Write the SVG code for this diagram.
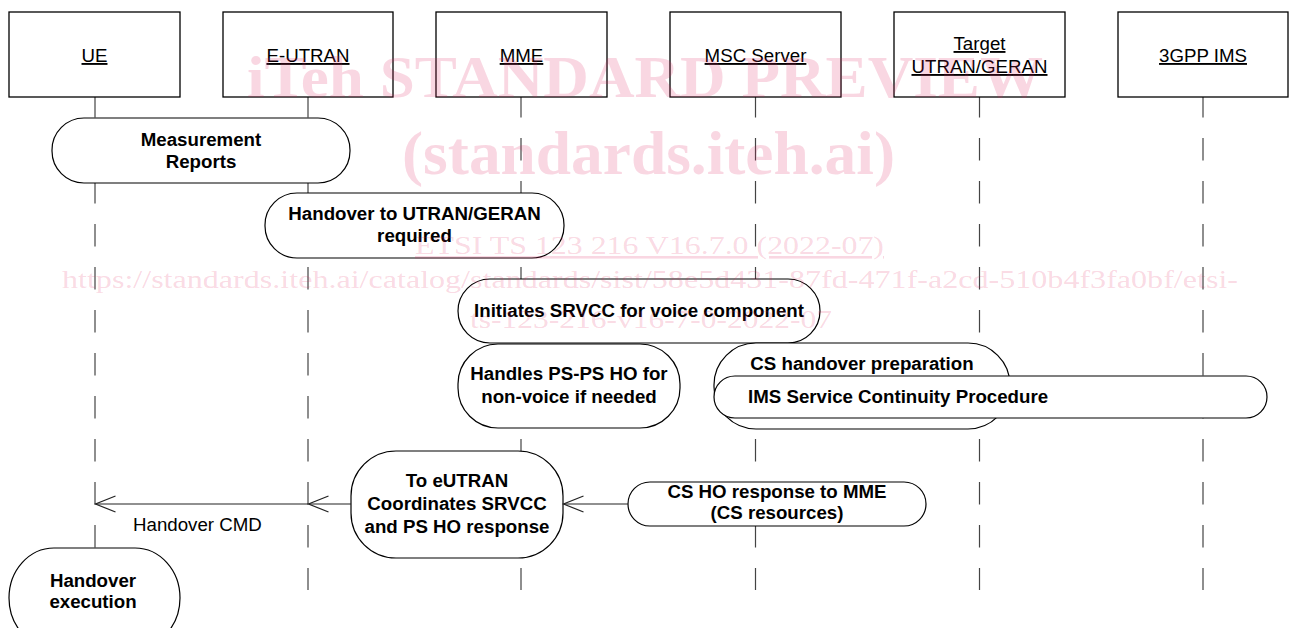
<svg xmlns="http://www.w3.org/2000/svg" width="1289" height="628" viewBox="0 0 1289 628">
<defs>
<style>
.box{fill:#fff;stroke:#000;stroke-width:1.3}
.pill{fill:#fff;stroke:#000;stroke-width:1.2}
.life{stroke:#444;stroke-width:1.2;stroke-dasharray:22.5 20.5;stroke-dashoffset:2;fill:none}
.conn{stroke:#222;stroke-width:1.2;fill:none}
.hdr{font-family:"Liberation Sans",Arial,sans-serif;font-size:18.7px;text-anchor:middle;text-decoration:underline;fill:#000}
.lbl{font-family:"Liberation Sans",Arial,sans-serif;font-size:18.7px;font-weight:bold;text-anchor:middle;fill:#000}
.msg{font-family:"Liberation Sans",Arial,sans-serif;font-size:18.7px;fill:#000}
.wm{font-family:"Liberation Serif","Times New Roman",serif;fill:#e0245e;fill-opacity:0.18}
</style>
<marker id="arr" markerUnits="userSpaceOnUse" markerWidth="24" markerHeight="20" refX="0" refY="0" orient="auto" overflow="visible">
<path d="M-20,-8 L0,0 L-20,8" fill="none" stroke="#222" stroke-width="1.2"/>
</marker>
</defs>
<rect width="1289" height="628" fill="#fff"/>

<g id="lifelines">
<line class="life" x1="95" y1="97" x2="95" y2="590"/>
<line class="life" x1="308" y1="97" x2="308" y2="590"/>
<line class="life" x1="521" y1="97" x2="521" y2="590"/>
<line class="life" x1="755.5" y1="97" x2="755.5" y2="590"/>
<line class="life" x1="979.5" y1="97" x2="979.5" y2="590"/>
<line class="life" x1="1203" y1="97" x2="1203" y2="590"/>
</g>

<g id="ue"><rect class="box" x="9" y="12" width="171" height="85"/><text class="hdr" x="94.5" y="62">UE</text></g>
<g id="eutran"><rect class="box" x="223" y="12" width="170" height="85"/><text class="hdr" x="308" y="62">E-UTRAN</text></g>
<g id="mme"><rect class="box" x="436" y="12" width="171" height="85"/><text class="hdr" x="521.5" y="62">MME</text></g>
<g id="msc"><rect class="box" x="670" y="12" width="171" height="85"/><text class="hdr" x="755.5" y="62">MSC Server</text></g>
<g id="target"><rect class="box" x="894" y="12" width="171" height="85"/><text class="hdr" x="979.5" y="50">Target</text><text class="hdr" x="979.5" y="73">UTRAN/GERAN</text></g>
<g id="ims"><rect class="box" x="1118" y="12" width="170" height="85"/><text class="hdr" x="1203" y="62">3GPP IMS</text></g>

<g id="measurement-reports"><rect class="pill" x="52" y="118" width="298" height="65" rx="32" ry="32"/><text class="lbl" x="201" y="145.5">Measurement</text><text class="lbl" x="201" y="167.5">Reports</text></g>
<g id="ho-required"><rect class="pill" x="265" y="193" width="299" height="65" rx="32" ry="32"/><text class="lbl" x="414.5" y="220">Handover to UTRAN/GERAN</text><text class="lbl" x="414.5" y="242">required</text></g>
<g id="initiates-srvcc"><rect class="pill" x="458" y="279" width="362" height="64" rx="32" ry="32"/><text class="lbl" x="639" y="317">Initiates SRVCC for voice component</text></g>
<g id="ps-ps-ho"><rect class="pill" x="458" y="344" width="222" height="84" rx="40" ry="40"/><text class="lbl" x="569" y="380">Handles PS-PS HO for</text><text class="lbl" x="569" y="403">non-voice if needed</text></g>
<g id="cs-ho-prep"><rect class="pill" x="714" y="343" width="296" height="86" rx="42" ry="42"/><text class="lbl" x="862" y="370">CS handover preparation</text></g>
<g id="ims-sc"><rect class="pill" x="714" y="376" width="553" height="42" rx="21" ry="21"/><text class="lbl" x="748" y="403" style="text-anchor:start">IMS Service Continuity Procedure</text></g>
<g id="coordinates"><rect class="pill" x="351" y="451" width="212" height="107" rx="45" ry="45"/><text class="lbl" x="457" y="487">To eUTRAN</text><text class="lbl" x="457" y="510">Coordinates SRVCC</text><text class="lbl" x="457" y="533">and PS HO response</text></g>
<g id="cs-ho-response"><rect class="pill" x="628" y="482" width="298" height="44" rx="22" ry="22"/><text class="lbl" x="777" y="498">CS HO response to MME</text><text class="lbl" x="777" y="519">(CS resources)</text></g>
<g id="ho-execution"><rect class="pill" x="9" y="548" width="171" height="100" rx="45" ry="50"/><text class="lbl" x="93" y="587">Handover</text><text class="lbl" x="93" y="608">execution</text></g>

<g id="connectors">
<line class="conn" x1="628" y1="504" x2="563.5" y2="504" marker-end="url(#arr)"/>
<line class="conn" x1="351" y1="504" x2="308.5" y2="504" marker-end="url(#arr)"/>
<line class="conn" x1="308" y1="504" x2="95.5" y2="504" marker-end="url(#arr)"/>
<text class="msg" x="133" y="531">Handover CMD</text>
</g>

<g id="watermark">
<text class="wm" x="247" y="97" font-size="60" font-weight="bold" textLength="796" lengthAdjust="spacingAndGlyphs">iTeh STANDARD PREVIEW</text>
<text class="wm" x="402" y="174" font-size="62" font-weight="bold" textLength="493" lengthAdjust="spacingAndGlyphs">(standards.iteh.ai)</text>
<text class="wm" x="415" y="254" font-size="26" textLength="469" lengthAdjust="spacingAndGlyphs" text-decoration="underline">ETSI TS 123 216 V16.7.0 (2022-07)</text>
<text class="wm" x="62" y="288" font-size="26" textLength="1176" lengthAdjust="spacingAndGlyphs">https://standards.iteh.ai/catalog/standards/sist/58e5d431-87fd-471f-a2cd-510b4f3fa0bf/etsi-</text>
<text class="wm" x="470" y="328" font-size="26" textLength="362" lengthAdjust="spacingAndGlyphs">ts-123-216-v16-7-0-2022-07</text>
</g>
</svg>
